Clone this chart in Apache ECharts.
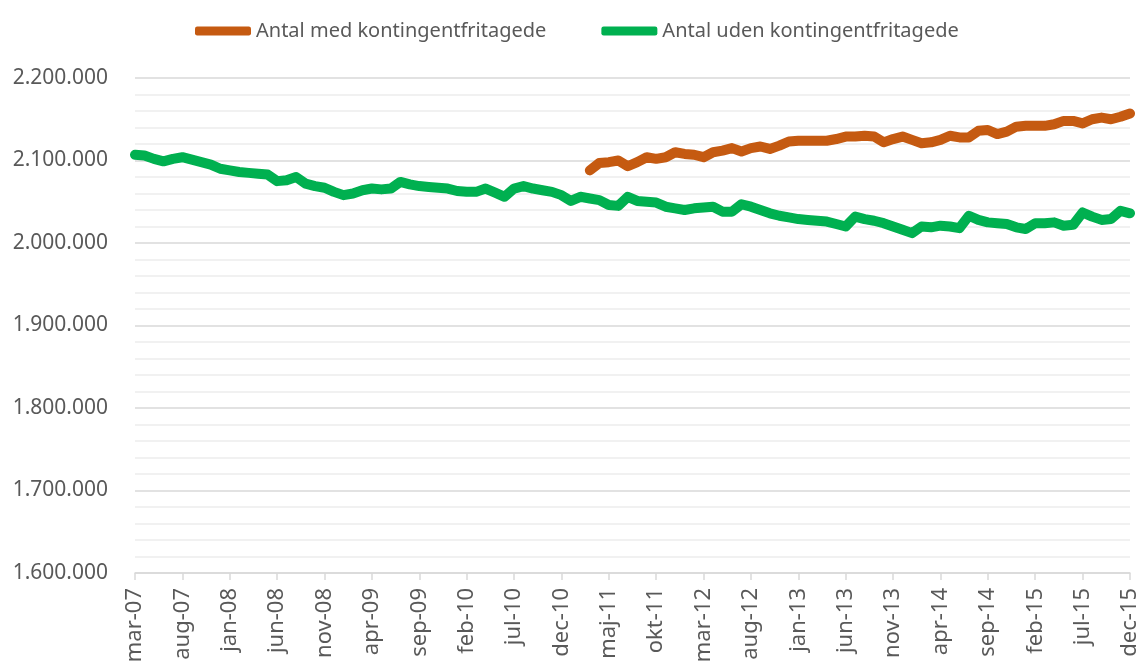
<!DOCTYPE html>
<html>
<head>
<meta charset="utf-8">
<script src="https://cdn.jsdelivr.net/npm/echarts@6/dist/echarts.min.js"></script>
<style>
  html, body { margin: 0; padding: 0; background: #ffffff; }
  #chart { width: 1145px; height: 666px; }
</style>
</head>
<body>
<div id="chart"></div>
<script>
// Monthly categories, mar-07 .. dec-15
var categories = [
  'mar-07','apr-07','maj-07','jun-07','jul-07','aug-07','sep-07','okt-07','nov-07','dec-07',
  'jan-08','feb-08','mar-08','apr-08','maj-08','jun-08','jul-08','aug-08','sep-08','okt-08','nov-08','dec-08',
  'jan-09','feb-09','mar-09','apr-09','maj-09','jun-09','jul-09','aug-09','sep-09','okt-09','nov-09','dec-09',
  'jan-10','feb-10','mar-10','apr-10','maj-10','jun-10','jul-10','aug-10','sep-10','okt-10','nov-10','dec-10',
  'jan-11','feb-11','mar-11','apr-11','maj-11','jun-11','jul-11','aug-11','sep-11','okt-11','nov-11','dec-11',
  'jan-12','feb-12','mar-12','apr-12','maj-12','jun-12','jul-12','aug-12','sep-12','okt-12','nov-12','dec-12',
  'jan-13','feb-13','mar-13','apr-13','maj-13','jun-13','jul-13','aug-13','sep-13','okt-13','nov-13','dec-13',
  'jan-14','feb-14','mar-14','apr-14','maj-14','jun-14','jul-14','aug-14','sep-14','okt-14','nov-14','dec-14',
  'jan-15','feb-15','mar-15','apr-15','maj-15','jun-15','jul-15','aug-15','sep-15','okt-15','nov-15','dec-15'
];

// "Antal uden kontingentfritagede" (thousands), mar-07 .. dec-15
var udenValues = [
  2107, 2106, 2102, 2099, 2102, 2104, 2101, 2098, 2095, 2090,
  2088, 2086, 2085, 2084, 2083, 2075, 2076, 2080, 2072, 2069, 2067, 2062,
  2058, 2060, 2064, 2066, 2065, 2066, 2074, 2071, 2069, 2068, 2067, 2066,
  2063, 2062, 2062, 2066, 2061, 2056, 2066, 2069, 2066, 2064, 2062, 2058,
  2051, 2056, 2054, 2052, 2046, 2045, 2056, 2051, 2050, 2049, 2044, 2042,
  2040, 2042, 2043, 2044, 2038, 2038, 2047, 2044, 2040, 2036, 2033, 2031,
  2029, 2028, 2027, 2026, 2023, 2020, 2032, 2029, 2027, 2024, 2020, 2016,
  2012, 2020, 2019, 2021, 2020, 2018, 2033, 2028, 2025, 2024, 2023, 2019,
  2017, 2024, 2024, 2025, 2021, 2022, 2037, 2032, 2028, 2029, 2039, 2036
];

// "Antal med kontingentfritagede" (thousands), starting mar-11
var medStart = 'mar-11';
var medValues = [
  2088, 2097, 2098, 2100, 2093, 2098, 2104, 2102, 2104, 2110,
  2108, 2107, 2104, 2110, 2112, 2115, 2111, 2115, 2117, 2114,
  2118, 2123, 2124, 2124, 2124, 2124, 2126, 2129, 2129, 2130,
  2129, 2122, 2126, 2129, 2125, 2121, 2122, 2125, 2130, 2128,
  2128, 2136, 2137, 2132, 2135, 2141, 2142, 2142, 2142, 2144,
  2148, 2148, 2145, 2150, 2152, 2150, 2153, 2157
];

var yTicks = { min: 1600000, max: 2200000, step: 100000 };

var seriesNames = ['Antal med kontingentfritagede', 'Antal uden kontingentfritagede'];

var offset = categories.indexOf(medStart);
var medData = categories.map(function (c, i) {
  var k = i - offset;
  return (k >= 0 && k < medValues.length) ? medValues[k] * 1000 : null;
});
var udenData = udenValues.map(function (v) { return v * 1000; });

function fmt(v) {
  return String(v).replace(/\B(?=(\d{3})+(?!\d))/g, '.');
}

var FONT = 'Noto Sans';
var chart = echarts.init(document.getElementById('chart'), null, { renderer: 'canvas' });
chart.setOption({
  animation: false,
  backgroundColor: '#ffffff',
  textStyle: { fontFamily: FONT },
  legend: {
    left: 190,
    top: 16,
    itemWidth: 56,
    itemHeight: 9,
    itemGap: 55,
    icon: 'roundRect',
    textStyle: { color: '#595959', fontSize: 20, fontFamily: FONT },
    data: seriesNames
  },
  grid: { left: 135, right: 15, top: 78, bottom: 93, containLabel: false },
  xAxis: {
    type: 'category',
    data: categories,
    boundaryGap: false,
    axisLine: { show: true, lineStyle: { color: '#d9d9d9', width: 1.5 } },
    axisTick: { show: true, interval: 4, length: 7, lineStyle: { color: '#d9d9d9', width: 1.5 } },
    axisLabel: {
      interval: 4,
      rotate: 90,
      margin: 15,
      color: '#595959',
      fontSize: 22,
      fontFamily: FONT
    },
    splitLine: { show: false }
  },
  yAxis: {
    type: 'value',
    min: yTicks.min,
    max: yTicks.max,
    interval: yTicks.step,
    axisLine: { show: false },
    axisTick: { show: false },
    axisLabel: {
      margin: 27,
      color: '#595959',
      fontSize: 21,
      fontFamily: FONT,
      formatter: fmt
    },
    splitLine: { show: true, lineStyle: { color: '#d9d9d9', width: 1.5 } },
    minorTick: { show: false, splitNumber: 5 },
    minorSplitLine: { show: true, lineStyle: { color: '#ededed', width: 1.5 } }
  },
  series: [
    {
      name: seriesNames[0],
      type: 'line',
      data: medData,
      showSymbol: false,
      symbol: 'none',
      connectNulls: false,
      color: '#C55A11',
      lineStyle: { color: '#C55A11', width: 10, cap: 'round', join: 'round' },
      z: 3
    },
    {
      name: seriesNames[1],
      type: 'line',
      data: udenData,
      showSymbol: false,
      symbol: 'none',
      color: '#00B050',
      lineStyle: { color: '#00B050', width: 10, cap: 'round', join: 'round' },
      z: 2
    }
  ]
});
</script>
</body>
</html>
